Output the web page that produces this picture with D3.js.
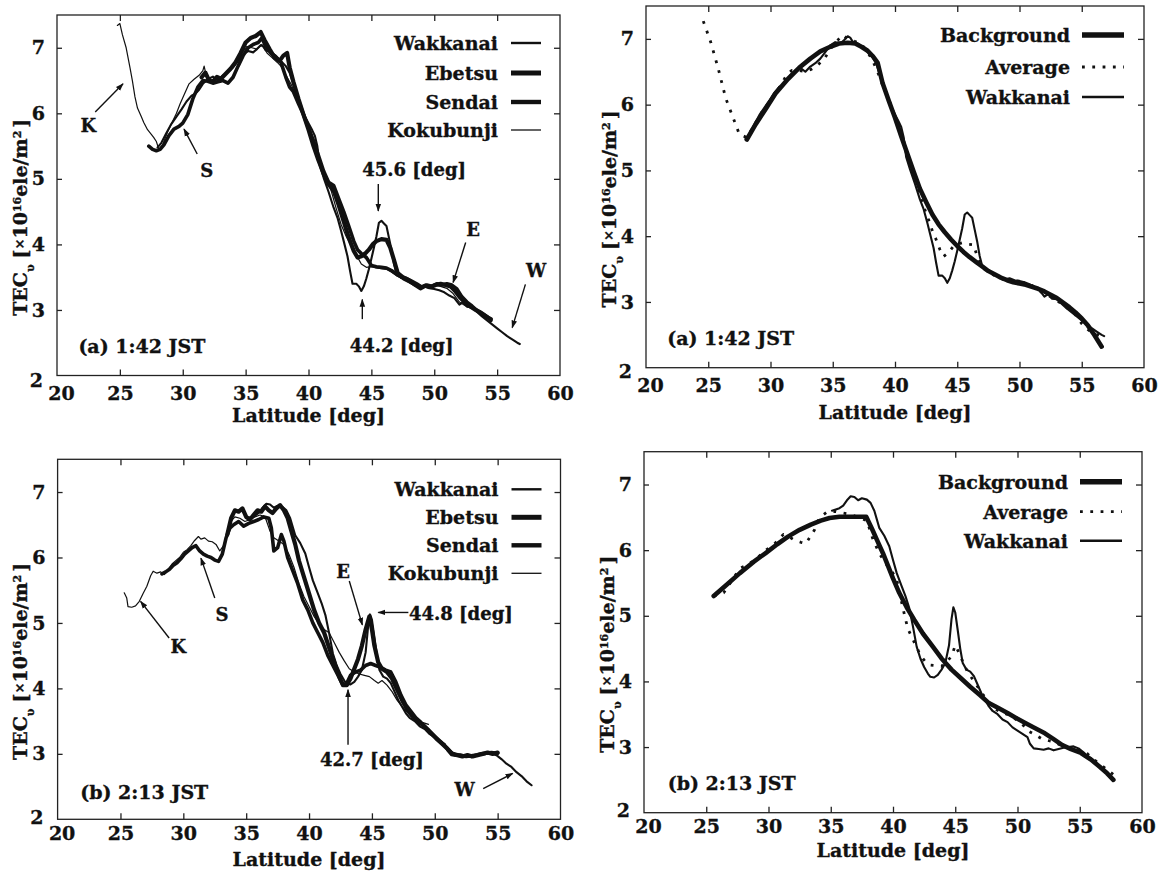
<!DOCTYPE html>
<html><head><meta charset="utf-8">
<script src="https://cdn.jsdelivr.net/npm/d3@7/dist/d3.min.js"></script>
<style>
body{margin:0;background:#fff;}
svg text{font-family:"DejaVu Serif",serif;font-weight:bold;fill:#111;stroke:#111;stroke-width:0.35px;}
</style></head><body>
<svg id="c" width="1164" height="872"></svg>
<script>
// ---------- tick labels ----------
const xTicks=[20,25,30,35,40,45,50,55,60];
const yTicks=[2,3,4,5,6,7];

// ---------- (a) 1:42 JST, [latitude, TEC] ----------
const wakkanaiA=[[28.0,5.48],[28.3,5.55],[28.7,5.70],[29.1,5.84],[29.5,5.95],[29.9,6.06],[30.3,6.18],[30.7,6.27],[31.0,6.30],[31.3,6.36],[31.6,6.45],[32.0,6.52],[32.4,6.56],[32.8,6.50],[33.2,6.58],[33.6,6.63],[34.0,6.70],[34.4,6.80],[34.8,6.90],[35.2,6.95],[35.6,6.93],[35.9,6.98],[36.2,7.04],[36.4,7.02],[36.6,6.96],[37.0,6.93],[37.4,6.88],[37.8,6.80],[38.2,6.72],[38.5,6.62],[38.8,6.45],[39.1,6.28],[39.4,6.12],[39.7,5.96],[40.0,5.85],[40.3,5.74],[40.5,5.66],[40.7,5.50],[40.9,5.20],[41.2,5.02],[41.6,4.80],[42.0,4.56],[42.3,4.41],[42.6,4.20],[42.8,4.05],[43.1,3.82],[43.3,3.60],[43.5,3.40],[43.8,3.40],[44.0,3.36],[44.2,3.29],[44.4,3.36],[44.6,3.48],[44.8,3.62],[45.0,3.78],[45.2,3.95],[45.4,4.12],[45.6,4.33],[45.8,4.36],[46.0,4.32],[46.2,4.28],[46.4,4.10],[46.6,3.92],[46.8,3.70],[47.0,3.55],[47.3,3.50],[47.6,3.46],[48.0,3.42],[48.4,3.38],[48.8,3.34],[49.2,3.36],[49.6,3.33],[50.0,3.32],[50.4,3.30],[50.8,3.27],[51.2,3.22],[51.6,3.18],[52.0,3.08],[52.3,3.12],[52.6,3.05],[53.0,3.04],[53.4,2.97],[53.8,2.90],[54.2,2.84],[54.6,2.78],[55.0,2.72],[55.4,2.66],[55.8,2.60],[56.2,2.55],[56.6,2.50],[56.8,2.48]];
const ebetsuA=[[31.5,6.55],[31.8,6.62],[32.1,6.50],[32.4,6.48],[32.7,6.55],[33.0,6.52],[33.4,6.60],[33.8,6.68],[34.2,6.78],[34.6,6.92],[35.0,7.08],[35.4,7.15],[35.8,7.18],[36.2,7.24],[36.5,7.12],[36.9,6.98],[37.3,6.85],[37.7,6.80],[38.0,6.88],[38.3,6.92],[38.5,6.70],[38.8,6.48],[39.2,6.22],[39.6,5.98],[40.0,5.75],[40.4,5.50],[40.8,5.28],[41.2,5.08],[41.6,4.92],[42.0,4.82],[42.4,4.60],[42.8,4.35],[43.2,4.10],[43.6,3.90],[43.9,3.80],[44.2,3.82],[44.5,3.86],[44.8,3.92],[45.1,4.00],[45.4,4.05],[45.8,4.08],[46.2,4.07],[46.5,3.95],[46.8,3.76],[47.1,3.56],[47.5,3.50],[48.0,3.45],[48.5,3.38],[48.9,3.33],[49.3,3.37],[49.7,3.35],[50.1,3.38],[50.5,3.40],[50.9,3.38],[51.3,3.36],[51.7,3.28],[52.1,3.18],[52.5,3.10],[52.9,3.05],[53.3,3.00],[53.7,2.96],[54.1,2.90],[54.5,2.86]];
const sendaiA=[[27.3,5.50],[27.6,5.45],[27.9,5.43],[28.2,5.45],[28.5,5.52],[28.9,5.66],[29.3,5.76],[29.7,5.80],[30.0,5.85],[30.4,5.98],[30.8,6.22],[31.2,6.40],[31.6,6.50],[32.0,6.49],[32.4,6.46],[32.8,6.48],[33.2,6.50],[33.6,6.46],[34.0,6.55],[34.4,6.72],[34.8,6.88],[35.2,7.00],[35.6,7.05],[36.0,7.08],[36.3,7.15],[36.6,7.02],[37.0,6.92],[37.4,6.86],[37.8,6.78],[38.2,6.55],[38.5,6.40],[38.8,6.33],[39.2,6.15],[39.6,5.98],[40.0,5.78],[40.4,5.58],[40.8,5.35],[41.2,5.12],[41.6,4.95],[42.0,4.90],[42.4,4.70],[42.8,4.50],[43.2,4.28],[43.6,4.05],[43.9,3.92],[44.2,3.86],[44.6,3.80],[45.0,3.68],[45.4,3.66],[45.8,3.65],[46.2,3.64],[46.6,3.60],[47.0,3.55],[47.4,3.50],[47.8,3.48],[48.2,3.44],[48.6,3.40],[49.0,3.35],[49.4,3.38],[49.8,3.36],[50.2,3.40],[50.6,3.38],[51.0,3.40],[51.4,3.38],[51.8,3.32],[52.2,3.20],[52.6,3.12],[53.0,3.06],[53.4,2.99],[53.8,2.95],[54.2,2.90],[54.5,2.84]];
const kokubunjiA=[[24.8,7.34],[25.0,7.37],[25.2,7.20],[25.5,7.00],[25.8,6.70],[26.0,6.49],[26.2,6.25],[26.4,6.08],[26.7,5.95],[26.9,5.86],[27.2,5.75],[27.5,5.68],[27.7,5.63],[27.9,5.57],[28.1,5.45],[28.4,5.52],[28.8,5.72],[29.1,5.84],[29.5,6.00],[29.8,6.15],[30.1,6.28],[30.5,6.45],[30.9,6.52],[31.3,6.58],[31.6,6.65],[31.7,6.72],[31.9,6.55],[32.3,6.50],[32.7,6.58],[33.1,6.55],[33.5,6.62],[33.9,6.70],[34.3,6.80],[34.7,6.92],[35.1,7.02],[35.5,7.00],[35.9,6.98],[36.3,7.05],[36.7,6.92],[37.1,6.85],[37.5,6.78],[37.9,6.70],[38.2,6.58],[38.6,6.45],[39.0,6.28],[39.4,6.08],[39.8,5.88],[40.2,5.66],[40.6,5.45],[41.0,5.22],[41.4,5.02],[41.8,4.82],[42.2,4.55],[42.6,4.30],[43.0,4.12],[43.4,3.98],[43.8,3.84],[44.2,3.70],[44.6,3.65],[45.0,3.66],[45.4,3.64],[45.8,3.63],[46.2,3.62],[46.6,3.58],[47.0,3.52],[47.5,3.48],[48.0,3.42],[48.5,3.38],[49.0,3.34],[49.5,3.36],[50.0,3.38],[50.5,3.36],[51.0,3.33],[51.5,3.25],[52.0,3.12],[52.5,3.06],[53.0,3.02]];
const backgroundA=[[28.1,5.47],[28.8,5.70],[29.6,5.93],[30.4,6.17],[31.4,6.39],[32.3,6.56],[33.2,6.70],[34.0,6.81],[34.8,6.88],[35.5,6.93],[36.2,6.94],[36.8,6.93],[37.3,6.88],[37.8,6.82],[38.2,6.74],[38.6,6.64],[39.0,6.33],[39.5,6.06],[40.0,5.80],[40.5,5.52],[41.0,5.25],[41.5,4.98],[42.0,4.72],[42.5,4.52],[43.0,4.33],[43.5,4.18],[44.0,4.06],[44.5,3.95],[45.0,3.85],[45.5,3.76],[46.0,3.68],[46.5,3.61],[47.0,3.54],[47.5,3.47],[48.0,3.42],[48.5,3.37],[49.0,3.33],[49.5,3.30],[50.0,3.28],[50.5,3.26],[51.0,3.23],[51.5,3.20],[52.0,3.16],[52.5,3.11],[53.0,3.06],[53.5,2.99],[54.0,2.92],[54.5,2.84],[55.0,2.75],[55.5,2.64],[56.0,2.50],[56.6,2.32]];
const averageA=[[24.6,7.27],[25.2,6.95],[25.8,6.55],[26.4,6.10],[27.0,5.80],[27.5,5.55],[28.1,5.50],[28.8,5.72],[29.5,5.95],[30.2,6.10],[30.8,6.29],[31.3,6.45],[31.7,6.52],[32.3,6.52],[32.8,6.50],[33.3,6.54],[33.8,6.60],[34.4,6.72],[35.0,6.90],[35.5,7.00],[35.8,7.06],[36.2,7.00],[36.8,6.96],[37.3,6.92],[37.8,6.80],[38.2,6.67],[38.6,6.50],[39.0,6.30],[39.5,6.08],[40.0,5.82],[40.4,5.60],[40.8,5.38],[41.2,5.12],[41.6,4.90],[42.0,4.62],[42.4,4.40],[42.7,4.25],[43.0,4.08],[43.3,3.95],[43.6,3.80],[43.9,3.69],[44.3,3.75],[44.7,3.85],[45.0,3.88],[45.4,3.90],[45.8,3.88],[46.3,3.87],[46.6,3.70],[46.9,3.54],[47.4,3.47],[48.0,3.40],[48.7,3.34],[49.3,3.33],[50.0,3.30],[50.5,3.29],[51.0,3.25],[51.5,3.18],[52.0,3.12],[52.5,3.08],[52.9,3.03],[53.4,2.97],[53.9,2.90],[54.4,2.83],[55.0,2.67],[55.5,2.58],[55.9,2.52],[56.3,2.50],[56.8,2.47]];

// ---------- (b) 2:13 JST, [latitude, TEC] ----------
const wakkanaiB=[[35.1,6.60],[35.4,6.62],[35.7,6.64],[36.0,6.68],[36.3,6.76],[36.6,6.82],[36.9,6.81],[37.2,6.76],[37.5,6.79],[37.9,6.77],[38.2,6.72],[38.5,6.60],[38.9,6.34],[39.3,6.22],[39.7,6.06],[40.0,5.85],[40.3,5.65],[40.7,5.45],[41.0,5.30],[41.3,5.12],[41.6,4.84],[41.9,4.53],[42.2,4.35],[42.5,4.22],[42.8,4.12],[43.0,4.07],[43.3,4.06],[43.6,4.10],[43.9,4.18],[44.2,4.28],[44.5,4.55],[44.7,4.95],[44.85,5.13],[45.0,5.05],[45.2,4.78],[45.4,4.50],[45.6,4.28],[45.9,4.18],[46.2,4.15],[46.5,4.08],[46.8,3.95],[47.1,3.82],[47.4,3.72],[47.7,3.62],[48.0,3.55],[48.4,3.50],[48.8,3.42],[49.2,3.38],[49.6,3.30],[50.0,3.25],[50.4,3.20],[50.8,3.15],[51.0,3.05],[51.3,2.98],[51.7,2.97],[52.1,2.96],[52.5,2.98],[52.9,2.95],[53.3,2.97],[53.7,2.99],[54.1,3.00],[54.5,3.01],[54.9,2.98],[55.3,2.92],[55.7,2.85],[56.1,2.80],[56.5,2.72],[56.9,2.66],[57.3,2.58],[57.7,2.52]];
const ebetsuB=[[33.5,6.35],[33.8,6.60],[34.1,6.72],[34.4,6.70],[34.7,6.75],[35.0,6.62],[35.3,6.58],[35.6,6.65],[35.9,6.72],[36.2,6.70],[36.5,6.78],[36.8,6.72],[37.1,6.68],[37.4,6.75],[37.7,6.80],[38.0,6.72],[38.3,6.60],[38.6,6.40],[38.9,6.20],[39.2,5.95],[39.6,5.70],[40.0,5.45],[40.4,5.20],[40.8,5.00],[41.2,4.85],[41.6,4.62],[42.0,4.40],[42.4,4.18],[42.7,4.05],[43.0,4.05],[43.3,4.15],[43.6,4.30],[43.9,4.45],[44.2,4.65],[44.5,4.90],[44.8,5.10],[45.0,4.90],[45.2,4.65],[45.5,4.40],[45.8,4.30],[46.2,4.25],[46.6,4.15],[47.0,3.98],[47.4,3.82],[47.8,3.68],[48.2,3.58],[48.6,3.50],[49.0,3.45],[49.4,3.38],[49.8,3.30],[50.2,3.22],[50.6,3.15],[51.0,3.08],[51.4,3.00],[51.8,2.98],[52.2,2.96],[52.6,2.98],[53.0,2.96],[53.4,2.98],[53.8,3.00],[54.2,3.02],[54.6,3.00],[55.0,3.02]];
const sendaiB=[[28.3,5.75],[28.6,5.78],[28.9,5.82],[29.2,5.88],[29.5,5.92],[29.8,5.98],[30.1,6.05],[30.4,6.10],[30.7,6.15],[31.0,6.18],[31.3,6.10],[31.6,6.05],[31.9,6.02],[32.2,6.00],[32.5,5.96],[32.8,5.94],[33.1,6.05],[33.4,6.30],[33.7,6.45],[34.0,6.50],[34.4,6.55],[34.8,6.48],[35.2,6.52],[35.6,6.55],[36.0,6.58],[36.4,6.62],[36.8,6.60],[37.0,6.45],[37.2,6.10],[37.5,6.15],[37.8,6.35],[38.0,6.25],[38.3,6.00],[38.7,5.80],[39.1,5.60],[39.5,5.35],[39.9,5.20],[40.3,5.00],[40.7,4.85],[41.1,4.70],[41.5,4.50],[41.9,4.35],[42.3,4.20],[42.7,4.05],[43.0,4.08],[43.3,4.20],[43.7,4.25],[44.1,4.28],[44.5,4.35],[44.9,4.38],[45.3,4.35],[45.7,4.32],[46.1,4.28],[46.5,4.25],[46.9,4.10],[47.3,3.90],[47.7,3.75],[48.1,3.65],[48.5,3.55],[48.9,3.48],[49.3,3.40],[49.7,3.32],[50.1,3.25],[50.5,3.18],[50.9,3.10],[51.3,3.02],[51.7,2.98],[52.1,2.98],[52.5,2.96],[52.9,2.97],[53.3,2.98],[53.7,3.00],[54.1,3.01],[54.5,3.02],[55.0,3.01]];
const kokubunjiB=[[25.3,5.46],[25.5,5.38],[25.6,5.25],[25.9,5.24],[26.2,5.26],[26.5,5.33],[26.8,5.45],[27.1,5.56],[27.4,5.72],[27.6,5.79],[27.9,5.76],[28.2,5.78],[28.5,5.74],[28.8,5.82],[29.1,5.90],[29.4,5.95],[29.7,6.00],[30.0,6.08],[30.3,6.12],[30.6,6.18],[30.9,6.26],[31.2,6.32],[31.4,6.28],[31.7,6.30],[32.0,6.25],[32.3,6.24],[32.6,6.20],[32.9,6.10],[33.2,6.18],[33.5,6.38],[33.8,6.55],[34.1,6.62],[34.5,6.60],[34.9,6.55],[35.3,6.58],[35.7,6.62],[36.1,6.65],[36.5,6.62],[36.9,6.40],[37.2,6.30],[37.6,6.25],[38.0,6.20],[38.4,6.05],[38.8,5.85],[39.2,5.60],[39.6,5.40],[40.0,5.25],[40.4,5.10],[40.8,4.98],[41.2,4.90],[41.6,4.85],[42.0,4.70],[42.4,4.55],[42.8,4.42],[43.2,4.30],[43.6,4.25],[44.0,4.22],[44.4,4.20],[44.8,4.18],[45.2,4.12],[45.5,4.08],[45.8,4.12],[46.2,4.05],[46.6,3.95],[47.0,3.82],[47.5,3.70],[48.0,3.60],[48.5,3.52],[49.0,3.48],[49.5,3.45]];
const backgroundB=[[25.6,5.30],[26.5,5.45],[27.7,5.65],[28.8,5.82],[29.8,5.96],[30.7,6.09],[31.6,6.21],[32.5,6.31],[33.4,6.39],[34.2,6.45],[34.9,6.49],[35.7,6.51],[36.8,6.51],[37.85,6.51],[38.3,6.33],[38.7,6.16],[39.2,5.95],[39.6,5.76],[40.0,5.57],[40.5,5.35],[41.1,5.13],[41.7,4.94],[42.4,4.73],[43.2,4.53],[43.9,4.35],[44.7,4.18],[45.5,4.04],[46.2,3.92],[47.0,3.79],[47.7,3.67],[48.5,3.59],[49.2,3.52],[50.0,3.43],[50.7,3.36],[51.5,3.28],[52.2,3.21],[52.9,3.12],[53.6,3.03],[54.3,2.97],[55.1,2.91],[55.9,2.81],[56.6,2.70],[57.2,2.60],[57.7,2.50]];
const averageB=[[25.6,5.30],[26.4,5.35],[27.0,5.52],[27.7,5.72],[28.5,5.80],[29.2,5.90],[29.8,6.00],[30.5,6.10],[31.2,6.24],[31.7,6.20],[32.1,6.15],[32.6,6.12],[33.0,6.10],[33.4,6.22],[33.7,6.31],[34.0,6.45],[34.2,6.51],[34.7,6.58],[35.3,6.59],[35.9,6.57],[36.5,6.55],[37.2,6.50],[37.9,6.45],[38.4,6.16],[38.9,5.95],[39.4,5.80],[39.9,5.68],[40.3,5.55],[40.7,5.20],[41.0,4.95],[41.2,4.80],[41.7,4.60],[42.2,4.40],[42.6,4.30],[43.0,4.25],[43.5,4.24],[43.9,4.23],[44.3,4.30],[44.7,4.38],[45.0,4.55],[45.4,4.40],[45.7,4.25],[46.0,4.15],[46.3,4.06],[46.8,3.92],[47.3,3.78],[47.8,3.66],[48.2,3.58],[48.8,3.52],[49.5,3.48],[50.0,3.40],[50.4,3.35],[50.8,3.25],[51.3,3.20],[52.0,3.12],[52.9,3.08],[53.8,3.00],[54.4,2.98],[55.0,2.95],[55.6,2.90],[56.2,2.80],[56.9,2.70],[57.7,2.58]];

// ---------- styles ----------
const style={
  Wakkanai:{w:2.1},Ebetsu:{w:4.2},Sendai:{w:3.6},Kokubunji:{w:1.2},
  Background:{w:4.6},Average:{w:2.8,dash:"2.8 7.5"}
};
const stationNames=["Wakkanai","Ebetsu","Sendai","Kokubunji"];
const fitNames=["Background","Average","Wakkanai"];

const panels=[
 {box:[57,560,15,375.5],series:[wakkanaiA,ebetsuA,sendaiA,kokubunjiA],names:stationNames,
  legend:{textRight:62,lineFrom:49,lineTo:19,rows:[28,58,87,115],lw:[2.4,5,4.4,1.3]},
  label:"(a) 1:42 JST",labelPos:[21.7,2.45],xlabOff:11,xtitleOff:40,twoDy:"0.6em",
  notes:[{t:"K",p:[22.5,5.81],a:[[23.04,6.02],[25.25,6.45]]},
         {t:"S",p:[31.9,5.12],a:[[31.15,5.38],[30.1,5.76]]},
         {t:"45.6 [deg]",p:[48.4,5.14],a:[[45.55,4.92],[45.55,4.51]]},
         {t:"44.2 [deg]",p:[47.4,2.45],a:[[44.28,2.86],[44.28,3.16]]},
         {t:"E",p:[53.1,4.23],a:[[52.5,4.03],[51.5,3.42]]},
         {t:"W",p:[58.1,3.6],a:[[57.25,3.39],[56.2,2.73]]}]},
 {box:[646,1144,6,367.7],series:[backgroundA,averageA,wakkanaiA],names:fitNames,
  legend:{textRight:74,lineFrom:62,lineTo:20,rows:[29,61,91],lw:[5.4,2.8,2.4]},
  label:"(a) 1:42 JST",labelPos:[21.7,2.45],xlabOff:11,xtitleOff:44,twoDy:"0.5em",notes:[]},
 {box:[57.6,560.5,459.3,819.3],series:[wakkanaiB,ebetsuB,sendaiB,kokubunjiB],names:stationNames,
  legend:{textRight:62,lineFrom:49,lineTo:19,rows:[30,58,86,114],lw:[2.4,5,4.4,1.3]},
  label:"(b) 2:13 JST",labelPos:[21.8,2.42],xlabOff:7,xtitleOff:40,twoDy:"0.2em",
  notes:[{t:"K",p:[29.6,4.64],a:[[28.87,4.77],[26.6,5.33]]},
         {t:"S",p:[33.07,5.13],a:[[32.5,5.38],[31.4,5.99]]},
         {t:"E",p:[42.7,5.79],a:[[43.2,5.64],[44.24,4.97]]},
         {t:"44.8 [deg]",p:[47.95,5.15],anchor:"start",a:[[47.9,5.16],[45.5,5.16]]},
         {t:"42.7 [deg]",p:[45.0,2.91],a:[[43.1,3.14],[43.1,3.98]]},
         {t:"W",p:[52.37,2.45],a:[[53.85,2.47],[56.2,2.70]]}]},
 {box:[644,1142,451.7,812.7],series:[backgroundB,averageB,wakkanaiB],names:fitNames,
  legend:{textRight:74,lineFrom:62,lineTo:20,rows:[30,60,89],lw:[5.4,2.8,2.4]},
  label:"(b) 2:13 JST",labelPos:[21.9,2.45],xlabOff:7,xtitleOff:37,twoDy:"0.2em",notes:[]}
];

const svg=d3.select("#c");
const defs=svg.append("defs");
defs.append("marker").attr("id","ah").attr("viewBox","0 0 10 10").attr("refX",9).attr("refY",5)
  .attr("markerWidth",8).attr("markerHeight",8).attr("markerUnits","userSpaceOnUse").attr("orient","auto")
  .append("path").attr("d","M0,1.5L10,5L0,8.5Z").attr("fill","#111");

panels.forEach(P=>{
  const [L,R,T,B]=P.box;
  const x=d3.scaleLinear().domain([20,60]).range([L,R]);
  const y=d3.scaleLinear().domain([2,7.5]).range([B,T]);
  const g=svg.append("g");

  g.append("rect").attr("x",L).attr("y",T).attr("width",R-L).attr("height",B-T)
    .attr("fill","none").attr("stroke","#222").attr("stroke-width",1.3);

  const inner=xTicks.slice(1,-1), innerY=yTicks.slice(1);
  const ax=g.append("g").attr("transform",`translate(0,${B})`)
    .call(d3.axisBottom(x).tickValues(xTicks).tickSize(-6).tickPadding(P.xlabOff).tickFormat(d3.format("d")));
  ax.select(".domain").remove();
  ax.selectAll(".tick line").attr("stroke","#222").attr("stroke-width",1.3).filter(d=>!inner.includes(d)).remove();
  ax.selectAll("text").attr("font-size",19).attr("font-family","DejaVu Serif").attr("font-weight","bold")
    .attr("dx",d=>d===20?4:0);

  const at=g.append("g").attr("transform",`translate(0,${T})`)
    .call(d3.axisTop(x).tickValues(inner).tickSize(-6).tickFormat(""));
  at.select(".domain").remove(); at.selectAll(".tick line").attr("stroke","#222").attr("stroke-width",1.3);

  const ay=g.append("g").attr("transform",`translate(${L},0)`)
    .call(d3.axisLeft(y).tickValues(yTicks).tickSize(-5).tickPadding(12).tickFormat(d3.format("d")));
  ay.select(".domain").remove();
  ay.selectAll(".tick line").attr("stroke","#222").attr("stroke-width",1.3).filter(d=>!innerY.includes(d)).remove();
  ay.selectAll("text").attr("font-size",19).attr("font-family","DejaVu Serif").attr("font-weight","bold")
    .attr("dy",d=>d===2?P.twoDy:"0.32em").attr("dx",d=>d===2?-2:0);

  const ar=g.append("g").attr("transform",`translate(${R},0)`)
    .call(d3.axisRight(y).tickValues(innerY).tickSize(-6).tickFormat(""));
  ar.select(".domain").remove(); ar.selectAll(".tick line").attr("stroke","#222").attr("stroke-width",1.3);

  g.append("text").attr("x",(L+R)/2).attr("y",B+P.xtitleOff).attr("dy","0.36em")
    .attr("text-anchor","middle").attr("font-size",19).text("Latitude [deg]");
  const yt=g.append("text").attr("transform",`translate(${L-37},${(T+B)/2+22}) rotate(-90)`)
    .attr("text-anchor","middle").attr("dy","0.36em").attr("font-size",19);
  yt.append("tspan").text("TEC");
  yt.append("tspan").attr("font-size",11).attr("baseline-shift","sub").text("υ");
  yt.append("tspan").attr("dx",6).text("[");
  yt.append("tspan").attr("font-size",13).attr("baseline-shift","20%").text("×");
  yt.append("tspan").text("10");
  yt.append("tspan").attr("font-size",11).attr("baseline-shift","super").text("16");
  yt.append("tspan").text("ele/m");
  yt.append("tspan").attr("font-size",11).attr("baseline-shift","super").text("2");
  yt.append("tspan").attr("dx",3).text("]");

  const line=d3.line().x(d=>x(d[0])).y(d=>y(d[1]));
  P.series.forEach((s,i)=>{
    const st=style[P.names[i]];
    g.append("path").datum(s).attr("d",line).attr("fill","none").attr("stroke","#111")
      .attr("stroke-width",st.w).attr("stroke-linejoin","round").attr("stroke-linecap",st.dash?"butt":"round")
      .attr("stroke-dasharray",st.dash||null);
  });

  const lg=P.legend;
  P.names.forEach((n,i)=>{
    const yy=T+lg.rows[i];
    g.append("text").attr("x",R-lg.textRight).attr("y",yy).attr("dy","0.36em")
      .attr("text-anchor","end").attr("font-size",19).text(n);
    const st=style[n];
    g.append("line").attr("x1",R-lg.lineFrom).attr("x2",R-lg.lineTo).attr("y1",yy).attr("y2",yy)
      .attr("stroke","#111").attr("stroke-width",lg.lw[i]).attr("stroke-dasharray",st.dash||null);
  });

  g.append("text").attr("x",x(P.labelPos[0])).attr("y",y(P.labelPos[1])).attr("dy","0.36em")
    .attr("font-size",19).text(P.label);

  P.notes.forEach(n=>{
    g.append("text").attr("x",x(n.p[0])).attr("y",y(n.p[1])).attr("dy","0.36em")
      .attr("text-anchor",n.anchor||"middle").attr("font-size",18).text(n.t);
    g.append("line").attr("x1",x(n.a[0][0])).attr("y1",y(n.a[0][1])).attr("x2",x(n.a[1][0])).attr("y2",y(n.a[1][1]))
      .attr("stroke","#111").attr("stroke-width",1.4).attr("marker-end","url(#ah)");
  });
});
</script>
</body></html>
